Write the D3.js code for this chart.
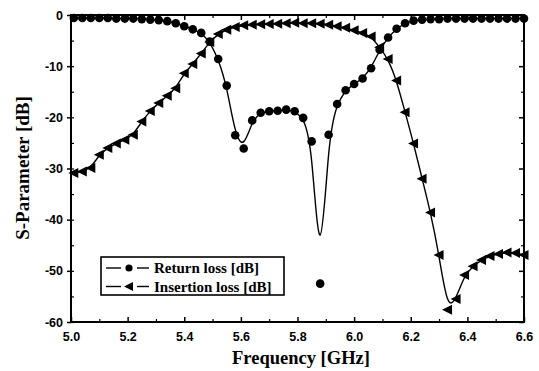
<!DOCTYPE html>
<html>
<head>
<meta charset="utf-8">
<script src="https://cdn.jsdelivr.net/npm/d3@7"></script>
<style>
  body { margin: 0; background: #fff; }
  svg { display: block; }
  .tick-label { font-family: "Liberation Sans", Arial, sans-serif; font-weight: bold; font-size: 12.5px; }
  .title { font-family: "Liberation Serif", "Times New Roman", serif; font-weight: bold; }
</style>
</head>
<body>
<svg id="chart" width="539" height="371"></svg>
<script>
// frequency points (GHz), shared by both curves
const freq = [5.01, 5.04, 5.07, 5.10, 5.13, 5.16, 5.19, 5.22, 5.25, 5.28,
              5.31, 5.34, 5.37, 5.40, 5.43, 5.46, 5.49, 5.52, 5.55, 5.58,
              5.61, 5.64, 5.67, 5.70, 5.73, 5.76, 5.79, 5.82, 5.85, 5.88,
              5.91, 5.94, 5.97, 6.00, 6.03, 6.06, 6.09, 6.12, 6.15, 6.18,
              6.21, 6.24, 6.27, 6.30, 6.33, 6.36, 6.39, 6.42, 6.45, 6.48,
              6.51, 6.54, 6.57, 6.60];

const returnLoss = [-0.6, -0.6, -0.6, -0.6, -0.6, -0.7, -0.7, -0.7, -0.8, -0.9,
                    -1.0, -1.2, -1.6, -2.2, -2.8, -3.5, -5.2, -8.6, -13.8, -23.5,
                    -26.1, -20.6, -19.1, -18.8, -18.7, -18.5, -18.8, -20.1, -24.7, -52.5,
                    -23.4, -17.4, -14.7, -13.5, -12.4, -10.4, -6.8, -4.4, -2.7, -1.6,
                    -1.1, -0.9, -0.8, -0.8, -0.7, -0.7, -0.7, -0.7, -0.7, -0.7,
                    -0.7, -0.7, -0.7, -0.7];

const insertionLoss = [-30.9, -30.6, -29.9, -27.3, -26.0, -25.1, -24.4, -23.4, -20.8, -18.75,
                       -17.2, -15.8, -14.3, -11.4, -9.6, -7.5, -5.3, -3.7, -2.9, -2.35,
                       -2.0, -1.9, -1.8, -1.75, -1.7, -1.6, -1.5, -1.6, -1.6, -1.7,
                       -1.9, -2.2, -2.5, -3.0, -3.5, -4.2, -6.3, -8.6, -12.8, -19.0,
                       -25.1, -32.0, -38.6, -46.9, -57.6, -55.5, -50.8, -49.1, -47.9, -47.1,
                       -46.7, -46.4, -46.5, -46.9];

const xTicks = [5.0, 5.2, 5.4, 5.6, 5.8, 6.0, 6.2, 6.4, 6.6];
const yTicks = [0, -10, -20, -30, -40, -50, -60];
const legendLabels = ["Return loss [dB]", "Insertion loss [dB]"];

const svg = d3.select("#chart");
const margin = {top: 15, right: 15, bottom: 49, left: 71};
const width = 539 - margin.left - margin.right;
const height = 371 - margin.top - margin.bottom;

const g = svg.append("g").attr("transform", `translate(${margin.left},${margin.top})`);

const x = d3.scaleLinear().domain([5.0, 6.6]).range([0, width]);
const y = d3.scaleLinear().domain([-60, 0]).range([height, 0]);

// minor ticks every 0.1 GHz and 5 dB
const xMinor = d3.range(5.1, 6.6, 0.2);
const yMinor = [-5, -15, -25, -35, -45, -55];

// bottom axis: labels + inward ticks
const xAxis = d3.axisBottom(x).tickValues(xTicks).tickSize(-5).tickFormat(d3.format(".1f"));
const gx = g.append("g").attr("transform", `translate(0,${height})`).call(xAxis);
gx.select(".domain").remove();
gx.selectAll("text").attr("class", "tick-label").attr("dy", "1.3em").attr("fill", "#000");
gx.selectAll("line").attr("stroke", "#000").attr("stroke-width", 1.5);
g.append("g").attr("transform", `translate(0,${height})`)
  .call(d3.axisBottom(x).tickValues(xMinor).tickSize(-3).tickFormat(""))
  .call(s => s.select(".domain").remove())
  .selectAll("line").attr("stroke", "#000").attr("stroke-width", 1.2);

// left axis: labels, outward + inward ticks
const yAxis = d3.axisLeft(y).tickValues(yTicks).tickSize(4).tickFormat(d => d);
const gy = g.append("g").call(yAxis);
gy.select(".domain").remove();
gy.selectAll("text").attr("class", "tick-label").attr("dx", "-1px").attr("fill", "#000");
gy.selectAll("line").attr("stroke", "#000").attr("stroke-width", 1.5);
g.append("g")
  .call(d3.axisLeft(y).tickValues(yTicks.concat(yMinor)).tickSize(-3).tickFormat(""))
  .call(s => s.select(".domain").remove())
  .selectAll("line").attr("stroke", "#000").attr("stroke-width", 1.2);

// top and right: inward ticks only
g.append("g")
  .call(d3.axisTop(x).tickValues(xTicks).tickSize(-5).tickFormat(""))
  .call(s => s.select(".domain").remove())
  .selectAll("line").attr("stroke", "#000").attr("stroke-width", 1.5);
g.append("g")
  .call(d3.axisTop(x).tickValues(xMinor).tickSize(-3).tickFormat(""))
  .call(s => s.select(".domain").remove())
  .selectAll("line").attr("stroke", "#000").attr("stroke-width", 1.2);
g.append("g").attr("transform", `translate(${width},0)`)
  .call(d3.axisRight(y).tickValues(yTicks).tickSize(-5).tickFormat(""))
  .call(s => s.select(".domain").remove())
  .selectAll("line").attr("stroke", "#000").attr("stroke-width", 1.5);
g.append("g").attr("transform", `translate(${width},0)`)
  .call(d3.axisRight(y).tickValues(yMinor).tickSize(-3).tickFormat(""))
  .call(s => s.select(".domain").remove())
  .selectAll("line").attr("stroke", "#000").attr("stroke-width", 1.2);

// frame
g.append("rect")
  .attr("width", width).attr("height", height)
  .attr("fill", "none").attr("stroke", "#000").attr("stroke-width", 2);

// curves (B-spline through the measured points)
const line = (vals) => d3.line()
  .x((d, i) => x(freq[i]))
  .y(d => y(d))
  .curve(d3.curveBasis)(vals);

g.append("path").attr("d", line(returnLoss))
  .attr("fill", "none").attr("stroke", "#000").attr("stroke-width", 1.4);
g.append("path").attr("d", line(insertionLoss))
  .attr("fill", "none").attr("stroke", "#000").attr("stroke-width", 1.4);

const tri = "M-5.5,0L4.5,-5L4.5,5Z";

g.append("g").selectAll("circle")
  .data(returnLoss)
  .join("circle")
  .attr("cx", (d, i) => x(freq[i]))
  .attr("cy", d => y(d))
  .attr("r", 4.3)
  .attr("fill", "#000");

g.append("g").selectAll("path")
  .data(insertionLoss)
  .join("path")
  .attr("d", tri)
  .attr("transform", (d, i) => `translate(${x(freq[i])},${y(d)})`)
  .attr("fill", "#000");

// axis titles
svg.append("text")
  .attr("class", "title")
  .attr("x", 301).attr("y", 364)
  .attr("text-anchor", "middle")
  .attr("font-size", 18.5)
  .text("Frequency [GHz]");

svg.append("text")
  .attr("class", "title")
  .attr("transform", "translate(29,168) rotate(-90)")
  .attr("text-anchor", "middle")
  .attr("font-size", 19)
  .text("S-Parameter [dB]");

// legend
const lg = svg.append("g");
lg.append("rect")
  .attr("x", 101).attr("y", 257).attr("width", 183).attr("height", 38)
  .attr("fill", "#fff").attr("stroke", "#000").attr("stroke-width", 1.6);

legendLabels.forEach((lab, i) => {
  const cy = 268 + i * 18.5;
  lg.append("line")
    .attr("x1", 106).attr("x2", 121).attr("y1", cy).attr("y2", cy)
    .attr("stroke", "#000").attr("stroke-width", 1.4);
  lg.append("line")
    .attr("x1", 137).attr("x2", 149).attr("y1", cy).attr("y2", cy)
    .attr("stroke", "#000").attr("stroke-width", 1.4);
  if (i === 0) {
    lg.append("circle").attr("cx", 129).attr("cy", cy).attr("r", 3.6).attr("fill", "#000");
  } else {
    lg.append("path").attr("d", "M-5,0L4,-4.5L4,4.5Z").attr("transform", `translate(129,${cy})`).attr("fill", "#000");
  }
  lg.append("text")
    .attr("class", "title")
    .attr("x", 154).attr("y", cy + 5)
    .attr("font-size", 15)
    .text(lab);
});
</script>
</body>
</html>
